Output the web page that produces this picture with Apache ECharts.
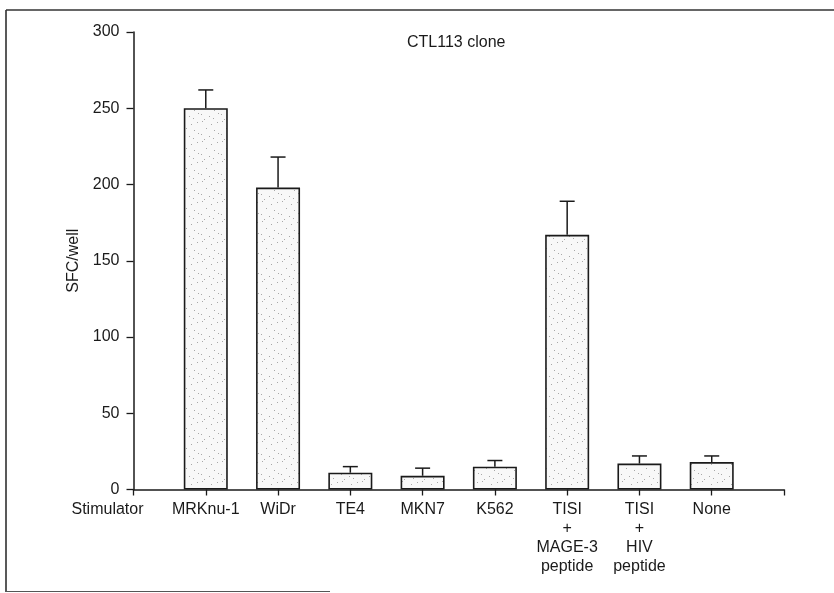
<!DOCTYPE html>
<html>
<head>
<meta charset="utf-8">
<title>CTL113 clone</title>
<script src="https://cdn.jsdelivr.net/npm/echarts@6/dist/echarts.min.js"></script>
<style>
  html, body { margin: 0; padding: 0; background: #fff; }
  #chart { width: 834px; height: 593px; }
</style>
</head>
<body>
<div id="chart"></div>
<script>
// Stimulators along the x axis (first slot sits on the y axis, last closes the axis)
const categories = ['Stimulator', 'MRKnu-1', 'WiDr', 'TE4', 'MKN7', 'K562',
  'TISI\n+\nMAGE-3\npeptide', 'TISI\n+\nHIV\npeptide', 'None', ''];
// Mean spot-forming cells per well
const sfcMean = [null, 250, 198, 11, 9, 15, 167, 17, 18, null];
// Upper end of the error bar (mean + SD)
const sfcUpper = [null, 262, 218, 15, 14, 19, 189, 22, 22, null];
// Y axis ticks
const yTicks = [0, 50, 100, 150, 200, 250, 300];

const FONT = '"Liberation Sans", Arial, Helvetica, sans-serif';
const INK = '#1a1a1a';

// Stippled fill for the bars
function stippleTile() {
  const c = document.createElement('canvas');
  c.width = 20; c.height = 20;
  const g = c.getContext('2d');
  g.fillStyle = '#f8f8f8';
  g.fillRect(0, 0, 20, 20);
  g.fillStyle = '#a8a8a8';
  const dots = [[2,1],[11,4],[17,2],[6,8],[14,10],[1,14],[9,16],[18,13],[4,19],[13,18]];
  dots.forEach(([x, y]) => g.fillRect(x, y, 1, 1));
  return c;
}

const barData = sfcMean.map(v => v == null ? '-' : v);
const errData = [];
sfcMean.forEach((v, i) => { if (v != null) errData.push([i, v, sfcUpper[i]]); });

const chart = echarts.init(document.getElementById('chart'), null, { renderer: 'canvas' });

chart.setOption({
  animation: false,
  backgroundColor: '#fff',
  textStyle: { fontFamily: FONT, color: INK },
  grid: { left: 133.5, right: 50, top: 32, bottom: 103.5, containLabel: false },
  graphic: [
    { type: 'line', shape: { x1: 6, y1: 10, x2: 6, y2: 592 }, style: { stroke: '#222', lineWidth: 1.5 } },
    { type: 'line', shape: { x1: 6, y1: 10, x2: 834, y2: 10 }, style: { stroke: '#333', lineWidth: 1.5 } },
    { type: 'line', shape: { x1: 6, y1: 591.5, x2: 330, y2: 591.5 }, style: { stroke: '#555', lineWidth: 1.2 } },
    { type: 'text', left: 407, top: 35,
      style: { text: 'CTL113 clone', font: '16px ' + FONT, fill: INK } }
  ],
  xAxis: {
    type: 'category',
    data: categories,
    boundaryGap: false,
    axisLine: { lineStyle: { color: INK, width: 1.5 } },
    axisTick: { show: true, inside: false, length: 6, lineStyle: { color: INK, width: 1.3 } },
    axisLabel: {
      interval: 0,
      margin: 11,
      fontSize: 16,
      lineHeight: 19,
      color: INK,
      fontFamily: FONT,
      formatter: v => v === 'Stimulator' ? '{s|Stimulator}' : v,
      rich: { s: { fontSize: 16, fontFamily: FONT, color: INK, padding: [0, 52, 0, 0] } }
    },
    splitLine: { show: false }
  },
  yAxis: {
    type: 'value',
    min: yTicks[0],
    max: yTicks[yTicks.length - 1],
    interval: 50,
    name: 'SFC/well',
    nameLocation: 'middle',
    nameGap: 49,
    nameTextStyle: { fontSize: 16, color: INK, fontFamily: FONT },
    axisLine: { show: true, lineStyle: { color: INK, width: 1.5 } },
    axisTick: { show: true, inside: false, length: 7, lineStyle: { color: INK, width: 1.3 } },
    axisLabel: { margin: 14, fontSize: 16, color: INK, fontFamily: FONT },
    splitLine: { show: false }
  },
  series: [
    {
      type: 'bar',
      data: barData,
      barWidth: 44,
      itemStyle: {
        color: { image: stippleTile(), repeat: 'repeat' },
        borderColor: INK,
        borderWidth: 1.6
      },
      z: 2
    },
    {
      type: 'custom',
      data: errData,
      encode: { x: 0, y: [1, 2] },
      z: 1,
      renderItem: function (params, api) {
        const base = api.coord([api.value(0), api.value(1)]);
        const top = api.coord([api.value(0), api.value(2)]);
        const cap = 7.5;
        return {
          type: 'group',
          children: [
            { type: 'line', shape: { x1: top[0], y1: top[1], x2: base[0], y2: base[1] },
              style: { stroke: INK, lineWidth: 1.5 } },
            { type: 'line', shape: { x1: top[0] - cap, y1: top[1], x2: top[0] + cap, y2: top[1] },
              style: { stroke: INK, lineWidth: 1.5 } }
          ]
        };
      }
    }
  ]
});
</script>
</body>
</html>
